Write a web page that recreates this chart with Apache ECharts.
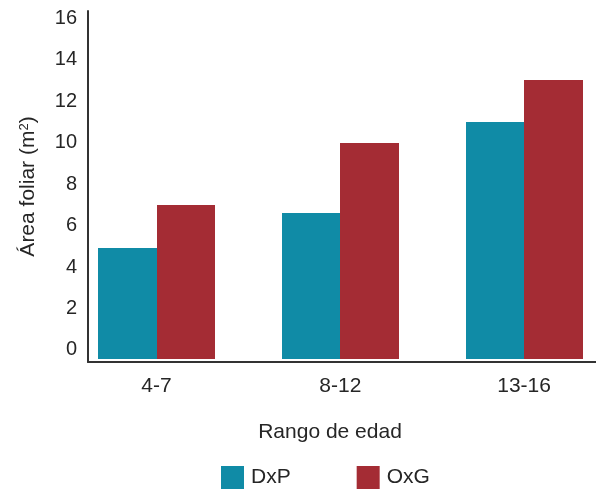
<!DOCTYPE html>
<html>
<head>
<meta charset="utf-8">
<script src="https://cdn.jsdelivr.net/npm/echarts@6/dist/echarts.min.js"></script>
<style>html,body{margin:0;padding:0;background:#fff;}#c{width:596px;height:489px;}</style>
</head>
<body>
<div id="c"></div>
<script>
const categories = ['4-7', '8-12', '13-16'];
const seriesNames = ['DxP', 'OxG'];
const dxpValues = [4.9, 6.6, 11];
const oxgValues = [7, 10, 13];
const yTickValues = [0, 2, 4, 6, 8, 10, 12, 14, 16];

const chart = echarts.init(document.getElementById('c'), null, {renderer: 'canvas'});
const FONT = 'Liberation Sans, Arial, sans-serif';
const TXT = '#262626';
const yMin = -0.58, yMax = 16.34;
const barBase = -0.43;       // bars are drawn from slightly below zero, as in the reference
const barFrac = 0.318;       // bar width as a fraction of the category band

function makeRender(side) {
  return function (params, api) {
    const idx = api.value(0);
    const v = api.value(1);
    const top = api.coord([idx, v]);
    const base = api.coord([idx, barBase]);
    const w = api.size([1, 0])[0] * barFrac;
    const c = Math.round(top[0]);
    const x0 = side < 0 ? Math.round(top[0] - w) : c;
    const x1 = side < 0 ? c : Math.round(top[0] + w);
    return {
      type: 'rect',
      shape: {x: x0, y: Math.round(top[1]), width: x1 - x0, height: Math.round(base[1]) - Math.round(top[1])},
      style: api.style()
    };
  };
}

chart.setOption({
  animation: false,
  backgroundColor: '#fff',
  textStyle: {fontFamily: FONT},
  grid: [
    {left: 88, right: 0, top: 11, bottom: 127, outerBoundsMode: 'none', containLabel: false},
    {left: 64.6, right: -20, top: 11, bottom: 127, outerBoundsMode: 'none', containLabel: false}
  ],
  legend: {
    data: seriesNames,
    top: 466,
    left: 221,
    padding: 0,
    icon: 'rect',
    itemWidth: 23,
    itemHeight: 23,
    itemGap: 66,
    textStyle: {fontSize: 21, color: TXT, fontFamily: FONT, padding: [0, 0, 0, 2]}
  },
  xAxis: [
    {
      gridIndex: 0, type: 'category', data: categories,
      axisLine: {show: true, onZero: false, lineStyle: {color: '#333', width: 2}},
      axisTick: {show: false}, axisLabel: {show: false}, splitLine: {show: false},
      name: 'Rango de edad', nameLocation: 'middle', nameGap: 60,
      nameTextStyle: {fontSize: 21, color: TXT, fontFamily: FONT, padding: [0, 24, 0, 0]}
    },
    {
      gridIndex: 1, type: 'category', data: categories,
      axisLine: {show: false, onZero: false}, axisTick: {show: false},
      axisLabel: {fontSize: 21, color: TXT, fontFamily: FONT, margin: 14}
    }
  ],
  yAxis: [
    {
      gridIndex: 0, type: 'value', min: yMin, max: yMax,
      axisLine: {show: true, lineStyle: {color: '#333', width: 2}},
      axisTick: {show: false}, splitLine: {show: false},
      axisLabel: {customValues: yTickValues, fontSize: 20, color: TXT, fontFamily: FONT, margin: 11},
      name: '{a|Área foliar (m}{s|2}{a|)}', nameLocation: 'middle', nameGap: 49, nameRotate: 90,
      nameTextStyle: {
        rich: {
          a: {fontSize: 21, color: TXT, fontFamily: FONT},
          s: {fontSize: 13, color: TXT, fontFamily: FONT, verticalAlign: 'top', padding: [0, 0, 8, 0]}
        }
      }
    },
    {
      gridIndex: 1, type: 'value', min: yMin, max: yMax, show: false,
      splitLine: {show: false}
    }
  ],
  series: [
    {
      name: seriesNames[0], type: 'custom', xAxisIndex: 1, yAxisIndex: 1,
      data: dxpValues.map((v, i) => [i, v]),
      encode: {x: 0, y: 1},
      renderItem: makeRender(-1),
      clip: false,
      itemStyle: {color: '#108BA6'}
    },
    {
      name: seriesNames[1], type: 'custom', xAxisIndex: 1, yAxisIndex: 1,
      data: oxgValues.map((v, i) => [i, v]),
      encode: {x: 0, y: 1},
      renderItem: makeRender(1),
      clip: false,
      itemStyle: {color: '#A42C34'}
    }
  ]
});
</script>
</body>
</html>
